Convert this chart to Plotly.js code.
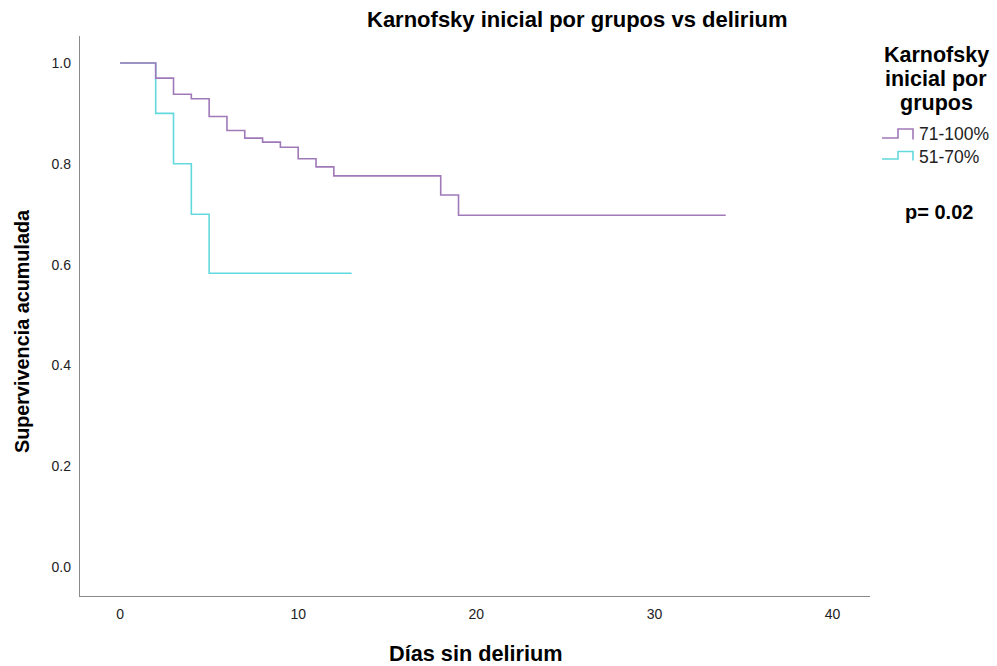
<!DOCTYPE html>
<html>
<head>
<meta charset="utf-8">
<script src="https://cdn.plot.ly/plotly-3.0.1.min.js"></script>
<style>html,body{margin:0;padding:0;background:#fff;}#chart{width:997px;height:666px;}</style>
</head>
<body>
<div id="chart"></div>
<script>
// Kaplan-Meier steps (time in days, cumulative survival)
var daysHigh = [0, 2, 3, 4, 5, 6, 7, 8, 9, 10, 11, 12, 18, 19, 34];
var survHigh = [1.0, 0.970, 0.938, 0.929, 0.894, 0.866, 0.851, 0.843, 0.833, 0.810, 0.794, 0.776, 0.738, 0.698, 0.698];
var daysLow = [0, 2, 3, 4, 5, 13];
var survLow = [1.0, 0.900, 0.800, 0.700, 0.583, 0.583];
var groupNames = ["71-100%", "51-70%"];
var groupColors = ["#a079b9", "#62d9dc"];
var legendTitleLines = ["Karnofsky", "inicial por", "grupos"];
var xTicks = [0, 10, 20, 30, 40];
var yTicks = [0.0, 0.2, 0.4, 0.6, 0.8, 1.0];

var FONT = "Liberation Sans, Arial, sans-serif";
var W = 997, H = 666, ML = 80, MR = 127, MT = 36, MB = 70;
var PW = W - ML - MR, PH = H - MT - MB;
function px(x) { return (x - ML) / PW; }
function py(y) { return (H - MB - y) / PH; }

var traces = [
  {x: daysLow, y: survLow, name: groupNames[1], mode: "lines",
   line: {shape: "hv", color: groupColors[1], width: 1.6}, hoverinfo: "skip"},
  {x: daysHigh, y: survHigh, name: groupNames[0], mode: "lines",
   line: {shape: "hv", color: groupColors[0], width: 1.6}, hoverinfo: "skip"}
];

function stepPath(x0, yLow, yHigh) {
  return "M " + px(x0) + " " + py(yLow) + " H " + px(x0 + 16) + " V " + py(yHigh) +
         " H " + px(x0 + 31) + " V " + py(yLow + 1.5);
}

var annotations = [
  {text: "<b>Karnofsky inicial por grupos vs delirium</b>", xref: "paper", yref: "paper",
   x: px(577), y: py(19), xanchor: "center", yanchor: "middle", showarrow: false,
   font: {size: 22, family: FONT, color: "#000"}},
  {text: "<b>Días sin delirium</b>", xref: "paper", yref: "paper",
   x: px(476), y: py(653), xanchor: "center", yanchor: "middle", showarrow: false,
   font: {size: 21.7, family: FONT, color: "#000"}},
  {text: "<b>Supervivencia acumulada</b>", xref: "paper", yref: "paper", textangle: -90,
   x: px(22), y: py(331), xanchor: "center", yanchor: "middle", showarrow: false,
   font: {size: 19.8, family: FONT, color: "#000"}},
  {text: groupNames[0], xref: "paper", yref: "paper",
   x: px(917), y: py(134), xanchor: "left", yanchor: "middle", showarrow: false,
   font: {size: 17.5, family: FONT, color: "#222"}},
  {text: groupNames[1], xref: "paper", yref: "paper",
   x: px(917), y: py(157), xanchor: "left", yanchor: "middle", showarrow: false,
   font: {size: 17.5, family: FONT, color: "#222"}},
  {text: "<b>p= 0.02</b>", xref: "paper", yref: "paper",
   x: px(939), y: py(212), xanchor: "center", yanchor: "middle", showarrow: false,
   font: {size: 20, family: FONT, color: "#000"}}
];
var titleYs = [55, 79, 103];
legendTitleLines.forEach(function(t, i) {
  annotations.push({text: "<b>" + t + "</b>", xref: "paper", yref: "paper",
    x: px(936), y: py(titleYs[i]), xanchor: "center", yanchor: "middle", showarrow: false,
    font: {size: 21.5, family: FONT, color: "#000"}});
});

var layout = {
  width: W, height: H,
  margin: {l: ML, r: MR, t: MT, b: MB},
  paper_bgcolor: "#fff", plot_bgcolor: "#fff",
  font: {family: FONT, color: "#000"},
  showlegend: false,
  xaxis: {
    range: [-2.25, 42.1], tickvals: xTicks, ticktext: xTicks.map(String),
    showgrid: false, zeroline: false, showline: true, linecolor: "#8a8a8a", linewidth: 1.2,
    ticks: "", tickfont: {size: 14, family: FONT, color: "#222"}, ticklabelstandoff: 5,
    fixedrange: true
  },
  yaxis: {
    range: [-0.0575, 1.0536], tickvals: yTicks, ticktext: yTicks.map(function(v){return v.toFixed(1);}),
    showgrid: false, zeroline: false, showline: true, linecolor: "#8a8a8a", linewidth: 1.2,
    ticks: "", tickfont: {size: 14, family: FONT, color: "#222"}, ticklabelstandoff: 5,
    fixedrange: true
  },
  shapes: [
    {type: "path", xref: "paper", yref: "paper", path: stepPath(882, 138, 129),
     line: {color: groupColors[0], width: 1.6}},
    {type: "path", xref: "paper", yref: "paper", path: stepPath(882, 159, 151.5),
     line: {color: groupColors[1], width: 1.6}}
  ],
  annotations: annotations
};

Plotly.newPlot("chart", traces, layout, {displayModeBar: false, staticPlot: true});
</script>
</body>
</html>
